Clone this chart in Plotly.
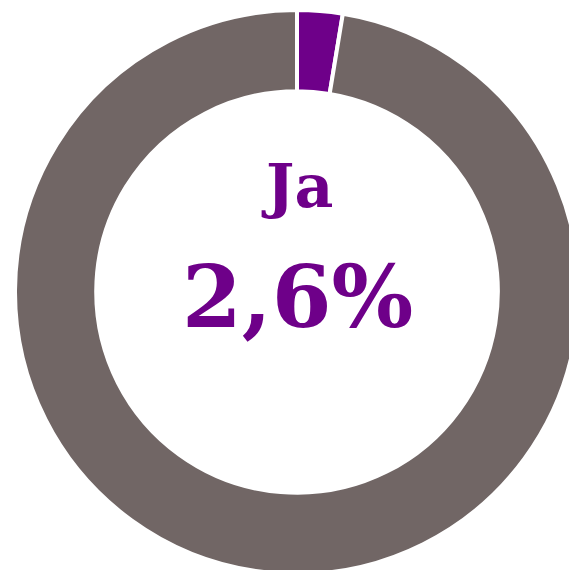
import plotly.graph_objects as go

labels = ["Ja", "Nein"]
values = [2.6, 97.4]
colors = ["#6E0089", "#716665"]
center_label = "Ja"
center_value = "2,6%"

W, H = 594, 584
OFF = 8  # page body margin
cx, cy, R = 297 - OFF, 292 - OFF, 282

fig = go.Figure(go.Pie(
    labels=labels,
    values=values,
    hole=0.712,
    sort=False,
    direction="clockwise",
    rotation=0,
    marker=dict(colors=colors, line=dict(color="white", width=4)),
    textinfo="none",
    hoverinfo="label+percent",
    domain=dict(x=[(cx - R) / W, (cx + R) / W], y=[1 - (cy + R) / H, 1 - (cy - R) / H]),
))

font = "DejaVu Serif"
fig.add_annotation(text="<b>%s</b>" % center_label, x=cx / W, y=1 - (186 - OFF) / H,
                   xref="paper", yref="paper", xanchor="center", yanchor="middle",
                   showarrow=False,
                   font=dict(family=font, size=60, color=colors[0]))
fig.add_annotation(text="<b>%s</b>" % center_value, x=cx / W, y=1 - (297 - OFF) / H,
                   xref="paper", yref="paper", xanchor="center", yanchor="middle",
                   showarrow=False,
                   font=dict(family=font, size=86, color=colors[0]))

fig.update_layout(width=W, height=H, margin=dict(l=0, r=0, t=0, b=0),
                  showlegend=False, paper_bgcolor="white", plot_bgcolor="white")
fig.write_html("out.html")
